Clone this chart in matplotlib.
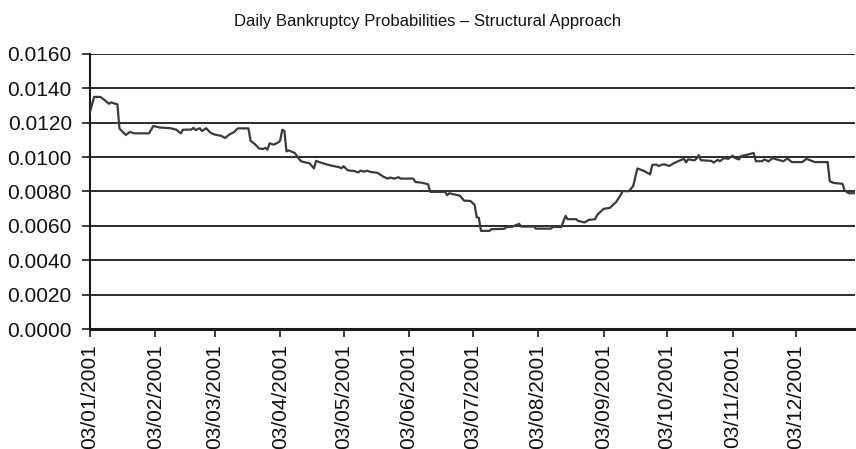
import matplotlib
matplotlib.use("Agg")
import matplotlib.pyplot as plt
import matplotlib.dates as mdates
from matplotlib import font_manager
import pandas as pd

plt.rcParams['font.family'] = ['Liberation Sans', 'DejaVu Sans']

title = "Daily Bankruptcy Probabilities – Structural Approach"

dates = [
    "2001-01-03", "2001-01-05", "2001-01-08", "2001-01-10", "2001-01-12", "2001-01-13",
    "2001-01-15", "2001-01-16", "2001-01-17", "2001-01-18", "2001-01-20", "2001-01-22",
    "2001-01-24", "2001-01-31", "2001-02-02", "2001-02-05", "2001-02-10", "2001-02-13",
    "2001-02-15", "2001-02-16", "2001-02-20", "2001-02-21", "2001-02-22", "2001-02-24",
    "2001-02-25", "2001-02-27", "2001-03-01", "2001-03-03", "2001-03-06", "2001-03-08",
    "2001-03-10", "2001-03-12", "2001-03-14", "2001-03-19", "2001-03-20", "2001-03-22",
    "2001-03-24", "2001-03-26", "2001-03-27", "2001-03-28", "2001-03-29", "2001-03-31",
    "2001-04-02", "2001-04-03", "2001-04-04", "2001-04-05", "2001-04-06", "2001-04-07",
    "2001-04-10", "2001-04-12", "2001-04-13", "2001-04-17", "2001-04-19", "2001-04-20",
    "2001-04-22", "2001-04-24", "2001-04-27", "2001-05-01", "2001-05-02", "2001-05-03",
    "2001-05-05", "2001-05-08", "2001-05-10", "2001-05-11", "2001-05-13", "2001-05-14",
    "2001-05-16", "2001-05-19", "2001-05-21", "2001-05-22", "2001-05-24", "2001-05-25",
    "2001-05-27", "2001-05-29", "2001-05-30", "2001-06-05", "2001-06-06", "2001-06-09",
    "2001-06-12", "2001-06-13", "2001-06-20", "2001-06-21", "2001-06-22", "2001-06-24",
    "2001-06-27", "2001-06-29", "2001-07-02", "2001-07-04", "2001-07-05", "2001-07-06",
    "2001-07-07", "2001-07-11", "2001-07-12", "2001-07-18", "2001-07-19", "2001-07-22",
    "2001-07-25", "2001-07-26", "2001-08-01", "2001-08-02", "2001-08-09", "2001-08-10",
    "2001-08-14", "2001-08-16", "2001-08-17", "2001-08-21", "2001-08-22", "2001-08-25",
    "2001-08-27", "2001-08-30", "2001-08-31", "2001-09-03", "2001-09-06", "2001-09-09",
    "2001-09-11", "2001-09-12", "2001-09-15", "2001-09-17", "2001-09-19", "2001-09-22",
    "2001-09-25", "2001-09-26", "2001-09-28", "2001-09-29", "2001-10-01", "2001-10-02",
    "2001-10-04", "2001-10-06", "2001-10-09", "2001-10-11", "2001-10-12", "2001-10-13",
    "2001-10-16", "2001-10-17", "2001-10-18", "2001-10-19", "2001-10-24", "2001-10-25",
    "2001-10-27", "2001-10-28", "2001-10-30", "2001-11-01", "2001-11-03", "2001-11-04",
    "2001-11-06", "2001-11-07", "2001-11-10", "2001-11-13", "2001-11-14", "2001-11-17",
    "2001-11-18", "2001-11-20", "2001-11-22", "2001-11-24", "2001-11-27", "2001-11-29",
    "2001-12-01", "2001-12-06", "2001-12-08", "2001-12-10", "2001-12-12", "2001-12-18",
    "2001-12-19", "2001-12-21", "2001-12-25", "2001-12-26", "2001-12-28", "2001-12-31",
]

prob = [
    0.01260, 0.01350, 0.01350, 0.01331, 0.01310, 0.01318,
    0.01310, 0.01307, 0.01166, 0.01153, 0.01129, 0.01146,
    0.01138, 0.01138, 0.01181, 0.01172, 0.01168, 0.01159,
    0.01138, 0.01159, 0.01160, 0.01170, 0.01157, 0.01168,
    0.01151, 0.01168, 0.01142, 0.01131, 0.01124, 0.01111,
    0.01132, 0.01144, 0.01167, 0.01167, 0.01095, 0.01076,
    0.01050, 0.01047, 0.01054, 0.01043, 0.01080, 0.01072,
    0.01085, 0.01095, 0.01159, 0.01153, 0.01033, 0.01039,
    0.01023, 0.00988, 0.00975, 0.00963, 0.00934, 0.00978,
    0.00969, 0.00961, 0.00951, 0.00941, 0.00935, 0.00947,
    0.00923, 0.00919, 0.00911, 0.00921, 0.00915, 0.00921,
    0.00913, 0.00909, 0.00893, 0.00885, 0.00875, 0.00881,
    0.00875, 0.00883, 0.00875, 0.00875, 0.00855, 0.00851,
    0.00842, 0.00798, 0.00798, 0.00778, 0.00790, 0.00784,
    0.00776, 0.00747, 0.00745, 0.00722, 0.00650, 0.00647,
    0.00571, 0.00571, 0.00581, 0.00583, 0.00592, 0.00596,
    0.00612, 0.00596, 0.00596, 0.00584, 0.00584, 0.00594,
    0.00594, 0.00658, 0.00639, 0.00639, 0.00629, 0.00620,
    0.00635, 0.00639, 0.00664, 0.00699, 0.00705, 0.00740,
    0.00778, 0.00802, 0.00802, 0.00832, 0.00934, 0.00920,
    0.00900, 0.00954, 0.00957, 0.00948, 0.00957, 0.00957,
    0.00948, 0.00963, 0.00980, 0.00990, 0.00970, 0.00987,
    0.00981, 0.00992, 0.01011, 0.00982, 0.00978, 0.00968,
    0.00984, 0.00976, 0.00994, 0.00990, 0.01008, 0.00996,
    0.00986, 0.01006, 0.01014, 0.01024, 0.00976, 0.00976,
    0.00986, 0.00975, 0.00994, 0.00986, 0.00976, 0.00992,
    0.00971, 0.00971, 0.00990, 0.00980, 0.00971, 0.00971,
    0.00860, 0.00849, 0.00845, 0.00806, 0.00790, 0.00790,
]

tick_dates = ["2001-01-03", "2001-02-03", "2001-03-03", "2001-04-03", "2001-05-03",
              "2001-06-03", "2001-07-03", "2001-08-03", "2001-09-03", "2001-10-03",
              "2001-11-03", "2001-12-03"]
y_ticks = [0.0, 0.002, 0.004, 0.006, 0.008, 0.010, 0.012, 0.014, 0.016]

x = pd.to_datetime(dates)
xt = pd.to_datetime(tick_dates)

# Condensed face for the heading when available
installed = {f.name for f in font_manager.fontManager.ttflist}
if 'Liberation Sans Narrow' in installed:
    title_family = ['Liberation Sans Narrow', 'Liberation Sans', 'DejaVu Sans']
    title_size = 14.5
else:
    title_family = ['Liberation Sans', 'DejaVu Sans']
    title_size = 12

fig = plt.figure(figsize=(8.56, 4.49), dpi=100)
ax = fig.add_axes([0.105, 0.267, 0.894, 0.613])

for yv in y_ticks[1:]:
    ax.axhline(yv, color='#1a1a1a', lw=1.3, zorder=1)

ax.plot(x, prob, color='#3a3a3a', lw=1.6, zorder=3)

ax.set_xlim(x[0], x[-1])
ax.set_ylim(0, 0.016)
ax.set_yticks(y_ticks)
ax.yaxis.set_major_formatter(matplotlib.ticker.FormatStrFormatter('%.4f'))
ax.set_xticks(xt)
ax.xaxis.set_major_formatter(mdates.DateFormatter('%d/%m/%Y'))
plt.setp(ax.get_xticklabels(), rotation=90)

for s in ['top', 'right']:
    ax.spines[s].set_visible(False)
ax.spines['left'].set_linewidth(1.5)
ax.spines['bottom'].set_linewidth(2.2)
ax.spines['left'].set_color('#1a1a1a')
ax.spines['bottom'].set_color('#1a1a1a')

ax.tick_params(axis='both', direction='out', length=6, width=1.2, color='#1a1a1a',
               labelsize=15, labelcolor='#111111')
ax.tick_params(axis='y', pad=7)
ax.tick_params(axis='x', pad=5)

fig.text(0.5, 0.953, title, ha='center', va='center', fontsize=title_size,
         color='#111111', family=title_family)

fig.savefig("out.png", dpi=100)
